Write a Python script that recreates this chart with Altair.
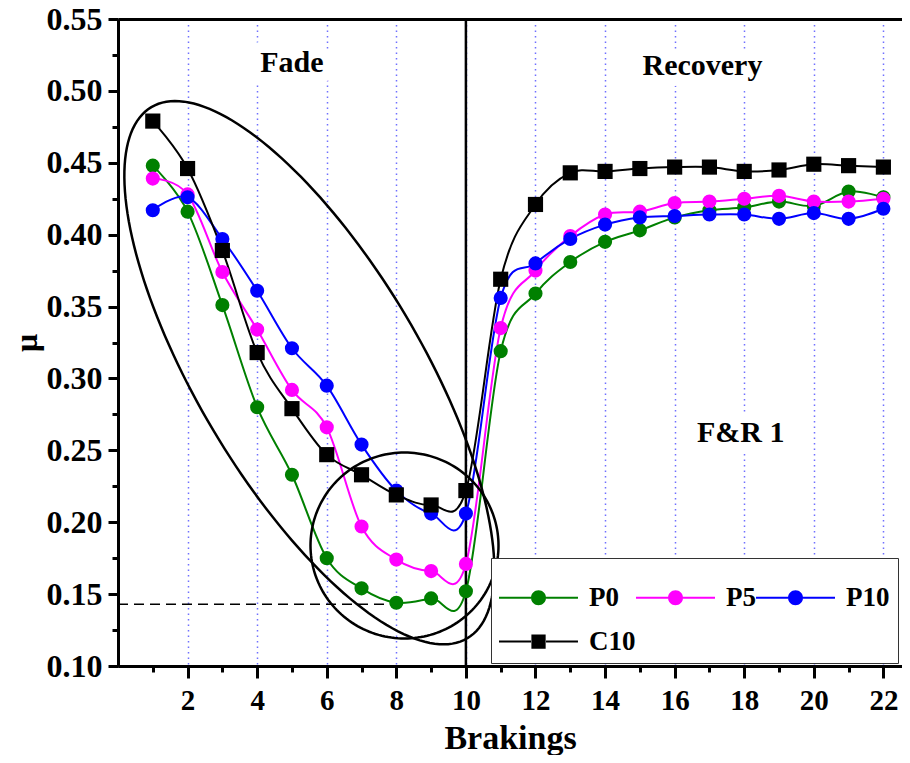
import altair as alt
import numpy as np
import pandas as pd

# ---------------- data ----------------
BRAKINGS = list(range(1, 23))
P0 = [0.448, 0.416, 0.351, 0.280, 0.233, 0.175, 0.154, 0.144, 0.147, 0.152, 0.319,
      0.359, 0.381, 0.395, 0.403, 0.412, 0.417, 0.419, 0.423, 0.420, 0.430, 0.426]
P5 = [0.439, 0.428, 0.374, 0.334, 0.292, 0.266, 0.197, 0.174, 0.166, 0.171, 0.335,
      0.375, 0.399, 0.414, 0.416, 0.422, 0.423, 0.425, 0.427, 0.423, 0.423, 0.425]
P10 = [0.417, 0.426, 0.397, 0.361, 0.321, 0.295, 0.254, 0.222, 0.206, 0.206, 0.356,
       0.380, 0.397, 0.407, 0.412, 0.413, 0.414, 0.414, 0.411, 0.415, 0.411, 0.418]
C10 = [0.479, 0.446, 0.389, 0.318, 0.279, 0.247, 0.233, 0.219, 0.212, 0.222, 0.369,
       0.421, 0.443, 0.444, 0.446, 0.447, 0.447, 0.444, 0.445, 0.449, 0.448, 0.447]

SERIES = ["P0", "P5", "P10", "C10"]
COLORS = ["#008000", "#ff00ff", "#0000ff", "#000000"]
CIRCLE_SIZE = 200
SQUARE_SIZE = 230

# legend glyphs (unit = half the symbol size): a line segment with a circle / square
# marker, all drawn as filled areas
BARS = ("M-1.8,-0.14L2.47,-0.14L2.47,0.14L-1.8,0.14Z "
        "M4.47,-0.14L8.73,-0.14L8.73,0.14L4.47,0.14Z ")
LEG_CIRCLE = BARS + "M2.47,0A1,1,0,1,1,4.47,0A1,1,0,1,1,2.47,0Z"
LEG_SQUARE = BARS + "M2.52,-0.95L4.42,-0.95L4.42,0.95L2.52,0.95Z"

X_MAJOR = [2, 4, 6, 8, 10, 12, 14, 16, 18, 20, 22]
X_MINOR = [1, 3, 5, 7, 9, 11, 13, 15, 17, 19, 21]
Y_MAJOR = [0.10, 0.15, 0.20, 0.25, 0.30, 0.35, 0.40, 0.45, 0.50, 0.55]
Y_MINOR = [0.125, 0.175, 0.225, 0.275, 0.325, 0.375, 0.425, 0.475, 0.525]

DIVIDER_X = 10          # fade / recovery boundary
DASH_Y = 0.143          # minimum of P0 marked by dashed line
DASH_X_END = 8

LABELS = ["Fade", "Recovery", "F&R 1"]
LABEL_X = [5.0, 16.8, 17.9]
LABEL_Y = [0.513, 0.511, 0.256]

# annotation ellipses: centre (data units), semi axes (px), tilt (deg)
ELL_NAMES = ["big", "small"]
ELL_CX = [5.50, 8.235]
ELL_CY = [0.3040, 0.1838]
ELL_A = [309.0, 94.0]
ELL_B = [112.0, 93.0]
ELL_ANGLE = [59.25, 0.0]

# ---------------- layout ----------------
FONT = "Liberation Serif"
WIDTH, HEIGHT = 784, 647
X_DOMAIN = [0, 22.535]
Y_DOMAIN = [0.10, 0.55]
PX_X = WIDTH / (X_DOMAIN[1] - X_DOMAIN[0])
PX_Y = HEIGHT / (Y_DOMAIN[1] - Y_DOMAIN[0])

xs = alt.Scale(domain=X_DOMAIN, nice=False, zero=False)
ys = alt.Scale(domain=Y_DOMAIN, nice=False, zero=False)
col_scale = alt.Scale(domain=SERIES, range=COLORS)

rows = []
for name, vals in zip(SERIES, [P0, P5, P10, C10]):
    for b, v in zip(BRAKINGS, vals):
        rows.append({"x": b, "mu": v, "series": name})
df = pd.DataFrame(rows)

ell_rows = []
t = np.linspace(0, 2 * np.pi, 181)
for n, cx, cy, a, b, ang in zip(ELL_NAMES, ELL_CX, ELL_CY, ELL_A, ELL_B, ELL_ANGLE):
    th = np.deg2rad(ang)
    dx = a * np.cos(th) * np.cos(t) - b * np.sin(th) * np.sin(t)
    dy = a * np.sin(th) * np.cos(t) + b * np.cos(th) * np.sin(t)
    for i in range(len(t)):
        ell_rows.append({"shape": n, "i": i, "x": cx + dx[i] / PX_X, "y": cy - dy[i] / PX_Y})
ell_df = pd.DataFrame(ell_rows)

axis_common = dict(
    domainColor="black", domainWidth=3, tickColor="black", tickWidth=3,
    labelFont=FONT, labelFontWeight="bold", labelColor="black",
    titleFont=FONT, titleFontWeight="bold", titleColor="black",
    labelOverlap=False, labelFlush=False,
)

x_major = alt.Axis(values=X_MAJOR, grid=True, gridColor="#6f6fff", gridDash=[1.5, 4],
                   gridWidth=1.5, tickSize=12, labelFontSize=29, labelPadding=8,
                   title="Brakings", titleFontSize=34, titlePadding=6, orient="bottom",
                   format="d", **axis_common)
y_major = alt.Axis(values=Y_MAJOR, grid=False, tickSize=10, labelFontSize=32, labelPadding=6,
                   format=".2f", title="μ", titleFontSize=32, titleX=-92, titleY=HEIGHT / 2,
                   titleBaseline="middle", titleAlign="center", orient="left",
                   **axis_common)
x_minor = alt.Axis(values=X_MINOR, grid=False, tickSize=6, labels=False, title=None,
                   orient="bottom", **axis_common)
y_minor = alt.Axis(values=Y_MINOR, grid=False, tickSize=6, labels=False, title=None,
                   orient="left", **axis_common)
x_top = alt.Axis(values=[], grid=False, ticks=False, labels=False, title=None,
                 orient="top", **axis_common)

lines = alt.Chart(df).mark_line(interpolate="cardinal", strokeWidth=2).encode(
    x=alt.X("x:Q", scale=xs, axis=x_major),
    y=alt.Y("mu:Q", scale=ys, axis=y_major),
    color=alt.Color("series:N", scale=col_scale, legend=None),
    detail="series:N",
)

circles = alt.Chart(df).transform_filter(alt.datum.series != "C10").mark_point(
    filled=True, opacity=1, shape="circle", size=CIRCLE_SIZE
).encode(
    x=alt.X("x:Q", scale=xs, axis=None),
    y=alt.Y("mu:Q", scale=ys, axis=None),
    color=alt.Color("series:N", scale=col_scale, legend=None),
)
squares = alt.Chart(df).transform_filter(alt.datum.series == "C10").mark_point(
    filled=True, opacity=1, shape="square", size=SQUARE_SIZE
).encode(
    x=alt.X("x:Q", scale=xs, axis=None),
    y=alt.Y("mu:Q", scale=ys, axis=None),
    color=alt.Color("series:N", scale=col_scale, legend=None),
)

symbol_expr = "datum.value === 'C10' ? '" + LEG_SQUARE + "' : '" + LEG_CIRCLE + "'"
legend = alt.Legend(
    title=" ", titleFontSize=12, titlePadding=6,
    orient="none", legendX=373, legendY=539, columns=3, direction="horizontal",
    symbolType={"expr": symbol_expr}, symbolSize=225, symbolStrokeWidth=0,
    labelFont=FONT, labelFontSize=27, labelFontWeight="bold", labelColor="black",
    labelOffset=63, padding=8, rowPadding=16, columnPadding=0,
    strokeColor="#333333", fillColor="white",
)
# the legend uses a data-derived (sorted) fill domain, so it is kept apart from the
# hidden colour legends of the plotted layers
legend_layer = alt.Chart(df).mark_point(filled=True, size=1, opacity=1).encode(
    x=alt.X("x:Q", scale=xs, axis=None),
    y=alt.Y("mu:Q", scale=ys, axis=None),
    fill=alt.Fill("series:N", sort=SERIES, scale=alt.Scale(range=COLORS), legend=legend),
)

ellipses = alt.Chart(ell_df).mark_line(color="black", strokeWidth=2.5).encode(
    x=alt.X("x:Q", scale=xs, axis=None),
    y=alt.Y("y:Q", scale=ys, axis=None),
    detail="shape:N",
    order="i:Q",
)

dash_df = pd.DataFrame({"x": [X_DOMAIN[0]], "x2": [DASH_X_END], "y": [DASH_Y]})
dash = alt.Chart(dash_df).mark_rule(color="black", strokeWidth=1.5, strokeDash=[10, 6]).encode(
    x=alt.X("x:Q", scale=xs, axis=x_minor),
    x2="x2:Q",
    y=alt.Y("y:Q", scale=ys, axis=y_minor),
)

vline = alt.Chart(pd.DataFrame({"x": [DIVIDER_X]})).mark_rule(color="black", strokeWidth=2.5).encode(
    x=alt.X("x:Q", scale=xs, axis=x_top),
)

text_df = pd.DataFrame({"t": LABELS, "x": LABEL_X, "y": LABEL_Y})
text_enc = dict(
    x=alt.X("x:Q", scale=xs, axis=None),
    y=alt.Y("y:Q", scale=ys, axis=None),
    text="t:N",
)
text_halo = alt.Chart(text_df).mark_text(font=FONT, fontSize=30, fontWeight="bold",
                                         color="white", stroke="white", strokeWidth=22,
                                         strokeJoin="round", baseline="alphabetic",
                                         align="center").encode(**text_enc)
texts = alt.Chart(text_df).mark_text(font=FONT, fontSize=30, fontWeight="bold",
                                     color="black", baseline="alphabetic",
                                     align="center").encode(**text_enc)

chart = alt.layer(text_halo, lines, dash, vline, ellipses, texts, legend_layer, circles,
                  squares).resolve_axis(
    x="independent", y="independent"
).properties(
    width=WIDTH, height=HEIGHT,
    autosize=alt.AutoSizeParams(type="none"),
    padding={"left": 110, "top": 11, "right": 0, "bottom": 89},
).configure_view(strokeWidth=0).configure(background="white")

chart.save("out.html", embed_options={"renderer": "svg", "actions": False})
